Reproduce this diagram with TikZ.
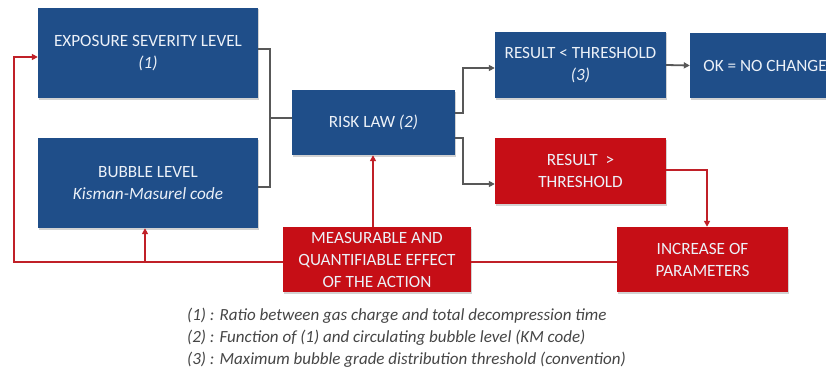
\documentclass[tikz,border=0pt]{standalone}
\usepackage{fontspec}
\setmainfont{Carlito}
\usetikzlibrary{arrows.meta,shadows}
\definecolor{boxblue}{RGB}{31,78,137}
\definecolor{boxred}{RGB}{198,14,22}
\definecolor{linered}{RGB}{192,32,40}
\definecolor{linegray}{RGB}{88,88,88}
\definecolor{notegray}{RGB}{70,70,70}
\definecolor{boxtext}{RGB}{236,241,248}
\tikzset{
  basebox/.style={rectangle, inner sep=2pt, align=center, text=boxtext,
    font=\fontsize{17.2}{22}\selectfont,
    drop shadow={opacity=0.35, shadow xshift=1pt, shadow yshift=-1.5pt}},
  bluebox/.style={basebox, fill=boxblue},
  redbox/.style={basebox, fill=boxred},
  garrow/.style={draw=linegray, line width=1.8pt, -{Triangle[length=6pt,width=6pt]}},
  gline/.style={draw=linegray, line width=1.8pt},
  rarrow/.style={draw=linered, line width=1.8pt, -{Triangle[length=6pt,width=6pt]}},
  rline/.style={draw=linered, line width=1.8pt},
  note/.style={anchor=west, text=notegray, inner sep=0pt, font=\fontsize{17}{19}\selectfont\itshape}
}
\begin{document}
\begin{tikzpicture}[x=1pt,y=-1pt]
\fill[white] (0,0) rectangle (826,369);
\useasboundingbox (0,0) rectangle (826,369);
\clip (0,0) rectangle (826,369);

\node[bluebox, minimum width=220pt, minimum height=90pt] (exp) at (148,53) {EXPOSURE SEVERITY LEVEL\\\textit{(1)}};
\node[bluebox, minimum width=220pt, minimum height=90pt] (bub) at (148,183) {BUBBLE LEVEL\\\textit{Kisman-Masurel code}};
\node[bluebox, minimum width=163pt, minimum height=65pt] (risk) at (373.5,122.5) {RISK LAW \textit{(2)}};
\node[bluebox, minimum width=171pt, minimum height=66pt] (res1) at (580.5,65) {RESULT < THRESHOLD\\\textit{(3)}};
\node[bluebox, minimum width=150pt, minimum height=65pt] (ok) at (765,65.5) {OK = NO CHANGE};
\node[redbox, minimum width=171pt, minimum height=66pt] (res2) at (580.5,171) {RESULT~~>\\THRESHOLD};
\node[redbox, minimum width=188pt, minimum height=65pt] (meas) at (377,259.5) {MEASURABLE AND\\QUANTIFIABLE EFFECT\\OF THE ACTION};
\node[redbox, minimum width=171pt, minimum height=65pt] (inc) at (702.5,259.5) {INCREASE OF\\PARAMETERS};

% bracket into risk law
\coordinate (brk) at (270,118);
\draw[gline] ([yshift=4pt]exp.east) -| (brk) |- ([yshift=-4pt]bub.east);
\draw[gline] (brk) -- (brk -| risk.west);

% risk law outputs
\draw[garrow] ([yshift=9.5pt]risk.east) -- ++(8,0) |- ([yshift=-3pt]res1.west);
\draw[garrow] ([yshift=-15.5pt]risk.east) -- ++(8,0) |- ([yshift=-13pt]res2.west);
\draw[garrow] (res1.east) -- (ok.west);

% red feedback loop
\draw[rarrow] ([yshift=1pt]res2.east) -| ([xshift=4.5pt]inc.north);
\draw[rline] ([yshift=-2.5pt]inc.west) -- ([yshift=-2.5pt]meas.east);
\coordinate (lc) at (14,262);
\draw[rarrow] ([yshift=-2.5pt]meas.west) -- (lc) |- ([yshift=-4pt]exp.west);
\coordinate (br) at (145,262);
\draw[rarrow] (br) -- (br |- bub.south);
\draw[rarrow] ([xshift=-4pt]meas.north) -- ([xshift=-4pt]meas.north |- risk.south);

% notes
\node[note] (n1) at (187,316) {(1) : Ratio between gas charge and total decompression time};
\node[note] (n2) at (187,338) {(2) : Function of (1) and circulating bubble level (KM code)};
\node[note] (n3) at (187,360) {(3) : Maximum bubble grade distribution threshold (convention)};
\end{tikzpicture}
\end{document}
